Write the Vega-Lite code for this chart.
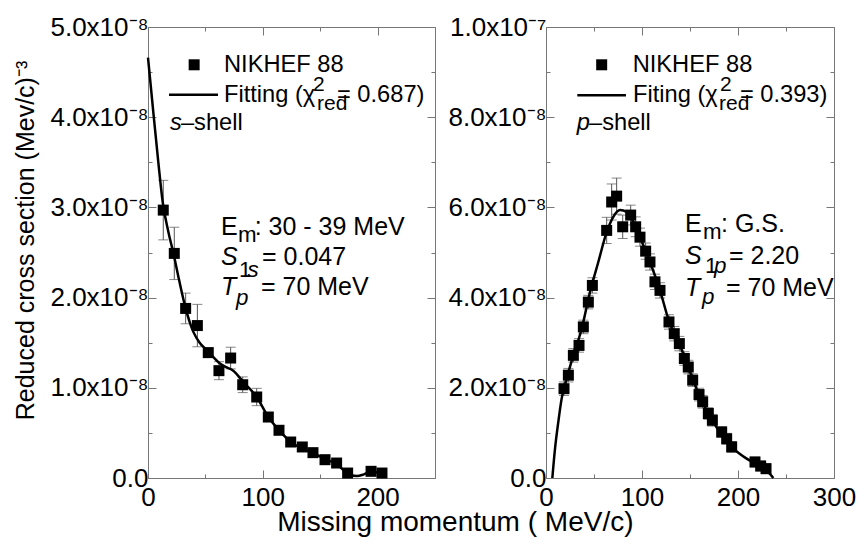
{
  "$schema": "https://vega.github.io/schema/vega-lite/v6.json",
  "background": "white",
  "padding": {"left": 12, "top": 13, "right": 0, "bottom": 0},
  "title": {"text": "Missing momentum ( MeV/c)", "orient": "bottom", "anchor": "middle", "fontSize": 28, "fontWeight": "normal", "font": "Liberation Sans", "color": "black", "offset": -2, "dx": 21},
  "datasets": {
    "s_points": [
      {"x": 13.3, "y": 2.97, "lo": 2.64, "hi": 3.30},
      {"x": 22.9, "y": 2.49, "lo": 2.20, "hi": 2.78},
      {"x": 32.8, "y": 1.88, "lo": 1.71, "hi": 2.05},
      {"x": 43.0, "y": 1.69, "lo": 1.455, "hi": 1.925},
      {"x": 52.5, "y": 1.39, "lo": 1.34, "hi": 1.44},
      {"x": 61.8, "y": 1.19, "lo": 1.09, "hi": 1.29},
      {"x": 72.0, "y": 1.33, "lo": 1.21, "hi": 1.45},
      {"x": 82.5, "y": 1.034, "lo": 0.947, "hi": 1.121},
      {"x": 94.7, "y": 0.898, "lo": 0.802, "hi": 0.994},
      {"x": 104.8, "y": 0.676, "lo": 0.626, "hi": 0.726},
      {"x": 114.1, "y": 0.529, "lo": 0.499, "hi": 0.559},
      {"x": 124.3, "y": 0.399, "lo": 0.369, "hi": 0.429},
      {"x": 134.4, "y": 0.344, "lo": 0.314, "hi": 0.374},
      {"x": 143.7, "y": 0.281, "lo": 0.251, "hi": 0.311},
      {"x": 154.2, "y": 0.203, "lo": 0.173, "hi": 0.233},
      {"x": 164.3, "y": 0.166, "lo": 0.136, "hi": 0.196},
      {"x": 173.9, "y": 0.055, "lo": 0.025, "hi": 0.085},
      {"x": 194.3, "y": 0.074, "lo": 0.044, "hi": 0.104},
      {"x": 203.8, "y": 0.055, "lo": 0.025, "hi": 0.085}
    ],
    "s_fit": [
      {"x": 0, "y": 4.66}, {"x": 2, "y": 4.40}, {"x": 4.6, "y": 4.06}, {"x": 9.0, "y": 3.50},
      {"x": 12.8, "y": 3.06}, {"x": 17.7, "y": 2.73}, {"x": 22, "y": 2.50}, {"x": 27, "y": 2.20},
      {"x": 32.8, "y": 1.88}, {"x": 39.5, "y": 1.62}, {"x": 45, "y": 1.50}, {"x": 51, "y": 1.42},
      {"x": 57, "y": 1.34}, {"x": 62.7, "y": 1.27}, {"x": 68, "y": 1.23}, {"x": 74.3, "y": 1.19},
      {"x": 83, "y": 1.064}, {"x": 94.7, "y": 0.898}, {"x": 104.8, "y": 0.676}, {"x": 114.1, "y": 0.53},
      {"x": 124.3, "y": 0.40}, {"x": 134, "y": 0.33}, {"x": 143.7, "y": 0.28}, {"x": 154, "y": 0.21},
      {"x": 164.3, "y": 0.155}, {"x": 174, "y": 0.05}, {"x": 181.8, "y": 0.022}, {"x": 188, "y": 0.04},
      {"x": 194, "y": 0.07}, {"x": 200, "y": 0.06}
    ],
    "p_points": [
      {"x": 18.75, "y": 1.98, "lo": 1.83, "hi": 2.13},
      {"x": 23.3, "y": 2.28, "lo": 2.13, "hi": 2.43},
      {"x": 28.5, "y": 2.72, "lo": 2.57, "hi": 2.87},
      {"x": 34.4, "y": 2.94, "lo": 2.79, "hi": 3.09},
      {"x": 38.9, "y": 3.35, "lo": 3.20, "hi": 3.50},
      {"x": 44.1, "y": 3.90, "lo": 3.75, "hi": 4.05},
      {"x": 48.3, "y": 4.27, "lo": 4.10, "hi": 4.44},
      {"x": 63.2, "y": 5.49, "lo": 5.20, "hi": 5.78},
      {"x": 68.4, "y": 6.12, "lo": 5.72, "hi": 6.52},
      {"x": 73.6, "y": 6.25, "lo": 5.85, "hi": 6.65},
      {"x": 79.9, "y": 5.57, "lo": 5.31, "hi": 5.83},
      {"x": 88.2, "y": 5.83, "lo": 5.61, "hi": 6.05},
      {"x": 93.4, "y": 5.57, "lo": 5.35, "hi": 5.79},
      {"x": 97.9, "y": 5.34, "lo": 5.14, "hi": 5.54},
      {"x": 103.8, "y": 5.03, "lo": 4.85, "hi": 5.21},
      {"x": 108.3, "y": 4.79, "lo": 4.61, "hi": 4.97},
      {"x": 113.5, "y": 4.35, "lo": 4.18, "hi": 4.52},
      {"x": 118.75, "y": 4.16, "lo": 3.99, "hi": 4.33},
      {"x": 128.1, "y": 3.46, "lo": 3.30, "hi": 3.62},
      {"x": 133.6, "y": 3.20, "lo": 3.04, "hi": 3.36},
      {"x": 138.9, "y": 2.98, "lo": 2.82, "hi": 3.14},
      {"x": 144.1, "y": 2.65, "lo": 2.50, "hi": 2.80},
      {"x": 148.2, "y": 2.46, "lo": 2.31, "hi": 2.61},
      {"x": 152.8, "y": 2.17, "lo": 2.03, "hi": 2.31},
      {"x": 159.4, "y": 1.85, "lo": 1.71, "hi": 1.99},
      {"x": 163.2, "y": 1.69, "lo": 1.55, "hi": 1.83},
      {"x": 169.1, "y": 1.43, "lo": 1.30, "hi": 1.56},
      {"x": 173.3, "y": 1.28, "lo": 1.15, "hi": 1.41},
      {"x": 183.0, "y": 1.02, "lo": 0.90, "hi": 1.14},
      {"x": 188.2, "y": 0.87, "lo": 0.75, "hi": 0.99},
      {"x": 193.4, "y": 0.69, "lo": 0.57, "hi": 0.81},
      {"x": 217.7, "y": 0.355, "lo": 0.245, "hi": 0.465},
      {"x": 223.6, "y": 0.266, "lo": 0.156, "hi": 0.376},
      {"x": 229.2, "y": 0.207, "lo": 0.097, "hi": 0.317}
    ],
    "p_fit": [
      {"x": 6.6, "y": 0}, {"x": 9.4, "y": 0.65}, {"x": 12.8, "y": 1.24}, {"x": 16.3, "y": 1.76},
      {"x": 21.5, "y": 2.2}, {"x": 28.5, "y": 2.72}, {"x": 37.2, "y": 3.31}, {"x": 45.8, "y": 4.12},
      {"x": 54.5, "y": 4.79}, {"x": 63.2, "y": 5.45}, {"x": 70.1, "y": 5.79}, {"x": 77.1, "y": 5.94},
      {"x": 84, "y": 5.90}, {"x": 91, "y": 5.68}, {"x": 97.9, "y": 5.34}, {"x": 108.3, "y": 4.79},
      {"x": 118.75, "y": 4.16}, {"x": 128.1, "y": 3.48}, {"x": 139.6, "y": 2.94}, {"x": 148.2, "y": 2.46},
      {"x": 159, "y": 1.87}, {"x": 174.3, "y": 1.24}, {"x": 193.4, "y": 0.69}, {"x": 209, "y": 0.43},
      {"x": 223.6, "y": 0.27}, {"x": 229.9, "y": 0.17}, {"x": 236.8, "y": 0}
    ],
    "legend": [
      {"panel": "s", "x": 40.2, "y": 4.581, "lx": 18.3, "lx2": 61.0, "ly": 4.249},
      {"panel": "p", "x": 58.0, "y": 9.162, "lx": 32.6, "lx2": 83.3, "ly": 8.486}
    ],
    "labels": [
      {"panel": "s", "x": 66.2, "y": 4.501, "text": "NIKHEF 88", "role": "leg", "it": false},
      {"panel": "s", "x": 66.2, "y": 4.169, "text": "Fitting (χ", "role": "leg", "it": false},
      {"panel": "s", "x": 143.8, "y": 4.290, "text": "2", "role": "legsub", "it": false},
      {"panel": "s", "x": 147.2, "y": 4.080, "text": "red", "role": "legsub", "it": false},
      {"panel": "s", "x": 164.6, "y": 4.169, "text": "= 0.687)", "role": "leg", "it": false},
      {"panel": "s", "x": 19.2, "y": 3.858, "text": "s", "role": "leg", "it": true},
      {"panel": "s", "x": 28.7, "y": 3.858, "text": "–shell", "role": "leg", "it": false},
      {"panel": "s", "x": 63.6, "y": 2.694, "text": "E", "role": "ann", "it": false},
      {"panel": "s", "x": 78.4, "y": 2.616, "text": "m", "role": "sub", "it": false},
      {"panel": "s", "x": 92.9, "y": 2.694, "text": ": 30 - 39 MeV", "role": "ann", "it": false},
      {"panel": "s", "x": 63.6, "y": 2.361, "text": "S", "role": "ann", "it": true},
      {"panel": "s", "x": 79.3, "y": 2.230, "text": "1", "role": "sub", "it": false},
      {"panel": "s", "x": 86.7, "y": 2.230, "text": "s", "role": "sub", "it": true},
      {"panel": "s", "x": 99.3, "y": 2.361, "text": "= 0.047", "role": "ann", "it": false},
      {"panel": "s", "x": 63.6, "y": 2.029, "text": "T", "role": "ann", "it": true},
      {"panel": "s", "x": 76.7, "y": 1.918, "text": "p", "role": "sub", "it": true},
      {"panel": "s", "x": 98.4, "y": 2.029, "text": "= 70 MeV", "role": "ann", "it": false},
      {"panel": "p", "x": 90.3, "y": 9.002, "text": "NIKHEF 88", "role": "leg", "it": false},
      {"panel": "p", "x": 90.6, "y": 8.337, "text": "Fiting (χ", "role": "leg", "it": false},
      {"panel": "p", "x": 181.25, "y": 8.581, "text": "2", "role": "legsub", "it": false},
      {"panel": "p", "x": 180.2, "y": 8.160, "text": "red", "role": "legsub", "it": false},
      {"panel": "p", "x": 202.0, "y": 8.337, "text": "= 0.393)", "role": "leg", "it": false},
      {"panel": "p", "x": 32.0, "y": 7.716, "text": "p", "role": "leg", "it": true},
      {"panel": "p", "x": 44.8, "y": 7.716, "text": "–shell", "role": "leg", "it": false},
      {"panel": "p", "x": 144.8, "y": 5.455, "text": "E", "role": "ann", "it": false},
      {"panel": "p", "x": 163.5, "y": 5.299, "text": "m", "role": "sub", "it": false},
      {"panel": "p", "x": 182.3, "y": 5.455, "text": ": G.S.", "role": "ann", "it": false},
      {"panel": "p", "x": 144.8, "y": 4.745, "text": "S", "role": "ann", "it": true},
      {"panel": "p", "x": 165.6, "y": 4.540, "text": "1", "role": "sub", "it": false},
      {"panel": "p", "x": 175.0, "y": 4.540, "text": "p", "role": "sub", "it": true},
      {"panel": "p", "x": 190.6, "y": 4.745, "text": "= 2.20", "role": "ann", "it": false},
      {"panel": "p", "x": 144.8, "y": 4.035, "text": "T", "role": "ann", "it": true},
      {"panel": "p", "x": 162.5, "y": 3.858, "text": "p", "role": "sub", "it": true},
      {"panel": "p", "x": 187.5, "y": 4.035, "text": "= 70 MeV", "role": "ann", "it": false}
    ]
  },
  "hconcat": [
    {
      "width": 287,
      "height": 451,
      "resolve": {"axis": {"x": "independent", "y": "independent"}},
      "layer": [
        {
          "data": {"name": "s_points"},
          "mark": {"type": "rule", "color": "#555", "strokeWidth": 1},
          "encoding": {
            "x": {"field": "x", "type": "quantitative", "scale": {"domain": [0, 250], "nice": false, "zero": false},
                  "axis": {"orient": "bottom", "values": [50, 150, 250], "labels": false, "tickSize": -4, "title": null}},
            "y": {"field": "lo", "type": "quantitative", "scale": {"domain": [0, 5], "nice": false, "zero": false},
                  "axis": {"orient": "left", "values": [0.5, 1.5, 2.5, 3.5, 4.5], "labels": false, "tickSize": -4, "title": null}},
            "y2": {"field": "hi"}
          }
        },
        {
          "data": {"name": "s_points"},
          "mark": {"type": "tick", "orient": "horizontal", "size": 10, "thickness": 1, "color": "#555"},
          "encoding": {
            "x": {"field": "x", "type": "quantitative", "scale": {"domain": [0, 250], "nice": false, "zero": false},
                  "axis": {"orient": "top", "values": [50, 150, 250], "labels": false, "tickSize": -4, "title": null}},
            "y": {"field": "lo", "type": "quantitative", "scale": {"domain": [0, 5], "nice": false, "zero": false},
                  "axis": {"orient": "right", "values": [0.5, 1.5, 2.5, 3.5, 4.5], "labels": false, "tickSize": -4, "title": null}}
          }
        },
        {
          "data": {"name": "s_points"},
          "mark": {"type": "tick", "orient": "horizontal", "size": 10, "thickness": 1, "color": "#555"},
          "encoding": {
            "x": {"field": "x", "type": "quantitative", "axis": null},
            "y": {"field": "hi", "type": "quantitative", "axis": null}
          }
        },
        {
          "data": {"name": "s_fit"},
          "mark": {"type": "line", "color": "black", "strokeWidth": 2.5, "interpolate": "monotone"},
          "encoding": {
            "x": {"field": "x", "type": "quantitative",
                  "axis": {"orient": "top", "values": [0, 100, 200], "labels": false, "tickSize": -8, "title": null}},
            "y": {"field": "y", "type": "quantitative",
                  "axis": {"orient": "right", "values": [0, 1, 2, 3, 4, 5], "labels": false, "tickSize": -8, "title": null}}
          }
        },
        {
          "data": {"name": "s_points"},
          "mark": {"type": "point", "shape": "square", "filled": true, "color": "black", "size": 121, "opacity": 1},
          "encoding": {
            "x": {"field": "x", "type": "quantitative",
                  "axis": {"orient": "bottom", "values": [0, 100, 200], "tickSize": -8, "labelPadding": 14, "title": null}},
            "y": {"field": "y", "type": "quantitative",
                  "axis": {"orient": "left", "values": [0, 1, 2, 3, 4, 5], "tickSize": -8, "labelPadding": 8,
                           "labelExpr": "datum.value == 0 ? '0.0' : format(datum.value, '.1f') + 'x10⁻⁸'",
                           "title": "Reduced cross section (Mev/c)⁻³", "titleX": -123, "titleY": 213, "titleBaseline": "middle", "titleAngle": -90}}
          }
        },
        {
          "data": {"name": "legend"},
          "transform": [{"filter": "datum.panel == 's'"}],
          "mark": {"type": "point", "shape": "square", "filled": true, "color": "black", "size": 121, "opacity": 1},
          "encoding": {
            "x": {"field": "x", "type": "quantitative", "axis": null},
            "y": {"field": "y", "type": "quantitative", "axis": null}
          }
        },
        {
          "data": {"name": "legend"},
          "transform": [{"filter": "datum.panel == 's'"}],
          "mark": {"type": "rule", "color": "black", "strokeWidth": 2.5},
          "encoding": {
            "x": {"field": "lx", "type": "quantitative", "axis": null},
            "x2": {"field": "lx2"},
            "y": {"field": "ly", "type": "quantitative", "axis": null}
          }
        },
        {
          "data": {"name": "labels"},
          "transform": [{"filter": "datum.panel == 's' && !datum.it"}],
          "mark": {"type": "text", "align": "left", "baseline": "alphabetic", "font": "Liberation Sans", "color": "black"},
          "encoding": {
            "x": {"field": "x", "type": "quantitative", "axis": null},
            "y": {"field": "y", "type": "quantitative", "axis": null},
            "text": {"field": "text"},
            "size": {"field": "role", "type": "ordinal", "scale": {"domain": ["ann", "leg", "sub", "legsub"], "range": [25, 21, 16, 13]}, "legend": null}
          }
        },
        {
          "data": {"name": "labels"},
          "transform": [{"filter": "datum.panel == 's' && datum.it"}],
          "mark": {"type": "text", "align": "left", "baseline": "alphabetic", "font": "Liberation Sans", "fontStyle": "italic", "color": "black"},
          "encoding": {
            "x": {"field": "x", "type": "quantitative", "axis": null},
            "y": {"field": "y", "type": "quantitative", "axis": null},
            "text": {"field": "text"},
            "size": {"field": "role", "type": "ordinal", "scale": {"domain": ["ann", "leg", "sub", "legsub"], "range": [25, 21, 16, 13]}, "legend": null}
          }
        }
      ]
    },
    {
      "width": 288,
      "height": 451,
      "resolve": {"axis": {"x": "independent", "y": "independent"}},
      "layer": [
        {
          "data": {"name": "p_points"},
          "mark": {"type": "rule", "color": "#555", "strokeWidth": 1},
          "encoding": {
            "x": {"field": "x", "type": "quantitative", "scale": {"domain": [0, 300], "nice": false, "zero": false},
                  "axis": {"orient": "bottom", "values": [50, 150, 250], "labels": false, "tickSize": -4, "title": null}},
            "y": {"field": "lo", "type": "quantitative", "scale": {"domain": [0, 10], "nice": false, "zero": false},
                  "axis": {"orient": "left", "values": [1, 3, 5, 7, 9], "labels": false, "tickSize": -4, "title": null}},
            "y2": {"field": "hi"}
          }
        },
        {
          "data": {"name": "p_points"},
          "mark": {"type": "tick", "orient": "horizontal", "size": 10, "thickness": 1, "color": "#555"},
          "encoding": {
            "x": {"field": "x", "type": "quantitative", "scale": {"domain": [0, 300], "nice": false, "zero": false},
                  "axis": {"orient": "top", "values": [50, 150, 250], "labels": false, "tickSize": -4, "title": null}},
            "y": {"field": "lo", "type": "quantitative", "scale": {"domain": [0, 10], "nice": false, "zero": false},
                  "axis": {"orient": "right", "values": [1, 3, 5, 7, 9], "labels": false, "tickSize": -4, "title": null}}
          }
        },
        {
          "data": {"name": "p_points"},
          "mark": {"type": "tick", "orient": "horizontal", "size": 10, "thickness": 1, "color": "#555"},
          "encoding": {
            "x": {"field": "x", "type": "quantitative", "axis": null},
            "y": {"field": "hi", "type": "quantitative", "axis": null}
          }
        },
        {
          "data": {"name": "p_fit"},
          "mark": {"type": "line", "color": "black", "strokeWidth": 2.5, "interpolate": "monotone"},
          "encoding": {
            "x": {"field": "x", "type": "quantitative",
                  "axis": {"orient": "top", "values": [0, 100, 200, 300], "labels": false, "tickSize": -8, "title": null}},
            "y": {"field": "y", "type": "quantitative",
                  "axis": {"orient": "right", "values": [0, 2, 4, 6, 8, 10], "labels": false, "tickSize": -8, "title": null}}
          }
        },
        {
          "data": {"name": "p_points"},
          "mark": {"type": "point", "shape": "square", "filled": true, "color": "black", "size": 121, "opacity": 1},
          "encoding": {
            "x": {"field": "x", "type": "quantitative",
                  "axis": {"orient": "bottom", "values": [0, 100, 200, 300], "tickSize": -8, "labelPadding": 14, "title": null}},
            "y": {"field": "y", "type": "quantitative",
                  "axis": {"orient": "left", "values": [0, 2, 4, 6, 8, 10], "tickSize": -8, "labelPadding": 8,
                           "labelExpr": "datum.value == 0 ? '0.0' : datum.value == 10 ? '1.0x10⁻⁷' : format(datum.value, '.1f') + 'x10⁻⁸'",
                           "title": null}}
          }
        },
        {
          "data": {"name": "legend"},
          "transform": [{"filter": "datum.panel == 'p'"}],
          "mark": {"type": "point", "shape": "square", "filled": true, "color": "black", "size": 121, "opacity": 1},
          "encoding": {
            "x": {"field": "x", "type": "quantitative", "axis": null},
            "y": {"field": "y", "type": "quantitative", "axis": null}
          }
        },
        {
          "data": {"name": "legend"},
          "transform": [{"filter": "datum.panel == 'p'"}],
          "mark": {"type": "rule", "color": "black", "strokeWidth": 2.5},
          "encoding": {
            "x": {"field": "lx", "type": "quantitative", "axis": null},
            "x2": {"field": "lx2"},
            "y": {"field": "ly", "type": "quantitative", "axis": null}
          }
        },
        {
          "data": {"name": "labels"},
          "transform": [{"filter": "datum.panel == 'p' && !datum.it"}],
          "mark": {"type": "text", "align": "left", "baseline": "alphabetic", "font": "Liberation Sans", "color": "black"},
          "encoding": {
            "x": {"field": "x", "type": "quantitative", "axis": null},
            "y": {"field": "y", "type": "quantitative", "axis": null},
            "text": {"field": "text"},
            "size": {"field": "role", "type": "ordinal", "scale": {"domain": ["ann", "leg", "sub", "legsub"], "range": [25, 21, 16, 13]}, "legend": null}
          }
        },
        {
          "data": {"name": "labels"},
          "transform": [{"filter": "datum.panel == 'p' && datum.it"}],
          "mark": {"type": "text", "align": "left", "baseline": "alphabetic", "font": "Liberation Sans", "fontStyle": "italic", "color": "black"},
          "encoding": {
            "x": {"field": "x", "type": "quantitative", "axis": null},
            "y": {"field": "y", "type": "quantitative", "axis": null},
            "text": {"field": "text"},
            "size": {"field": "role", "type": "ordinal", "scale": {"domain": ["ann", "leg", "sub", "legsub"], "range": [25, 21, 16, 13]}, "legend": null}
          }
        }
      ]
    }
  ],
  "spacing": 111,
  "bounds": "flush",
  "config": {
    "view": {"stroke": "#777", "strokeWidth": 1},
    "axis": {
      "labelFont": "Liberation Sans", "labelFontSize": 26, "labelColor": "black",
      "titleFont": "Liberation Sans", "titleFontSize": 25, "titleFontWeight": "normal", "titleColor": "black",
      "tickColor": "#777", "tickWidth": 1, "domain": false, "grid": false, "labelOverlap": false, "labelFlush": false
    }
  }
}
